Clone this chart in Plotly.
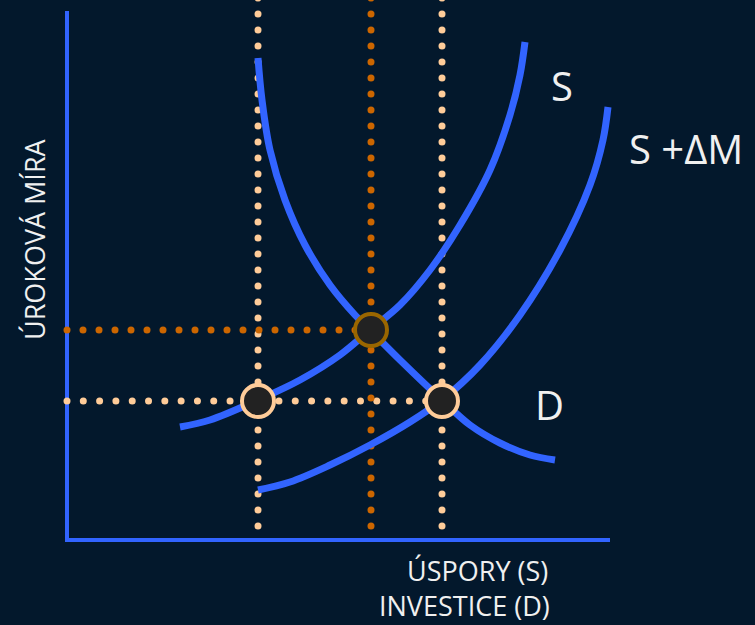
import numpy as np
import plotly.graph_objects as go

# Coordinates in the chart's own units (x: savings/investment, y: interest rate, origin at axes corner)
S_x = [180, 210, 258, 300, 340, 370, 400, 430, 460, 490, 510, 520, 525]
S_y = [427, 420, 400, 380, 355, 330, 305, 270, 225, 170, 115, 75, 42]

SdM_x = [258, 290, 330, 370, 410, 442, 480, 520, 560, 590, 603, 608]
SdM_y = [490, 482, 465, 445, 422, 400, 365, 315, 250, 185, 140, 107]

D_x = [258, 262, 270, 285, 305, 330, 355, 370, 400, 442, 470, 500, 530, 555]
D_y = [58, 100, 150, 200, 245, 285, 315, 330, 360, 400, 425, 443, 455, 460]

# equilibria
eq_x = [258, 371, 442]
eq_y = [401, 330, 401]
eq_border = ["#FFCC99", "#996600", "#FFCC99"]

origin = (67, 540)
x_axis_end = 610
y_axis_top = 11

BG = "#03182C"
BLUE = "#3264FF"
PEACH = "#FFCC99"
ORANGE = "#CC6600"
TXT = "#F0F0F0"

fig = go.Figure()

def dotted(x0, y0, x1, y1, color, step=16):
    n = int(round(max(abs(x1 - x0), abs(y1 - y0)) / step))
    xs = np.linspace(x0, x1, n + 1)
    ys = np.linspace(y0, y1, n + 1)
    fig.add_trace(go.Scatter(x=xs, y=ys, mode="markers",
                             marker=dict(size=7, color=color, line=dict(width=0)),
                             hoverinfo="skip", showlegend=False))

# axes
fig.add_trace(go.Scatter(x=[origin[0], origin[0], x_axis_end], y=[y_axis_top, origin[1], origin[1]],
                         mode="lines", line=dict(color=BLUE, width=4), hoverinfo="skip", showlegend=False))

# dotted guides (peach first, orange on top)
dotted(eq_x[0], -2, eq_x[0], 526, PEACH)
dotted(eq_x[2], -2, eq_x[2], 526, PEACH)
dotted(origin[0], eq_y[0], eq_x[2], eq_y[0], PEACH)
dotted(eq_x[1], -2, eq_x[1], 526, ORANGE)
dotted(origin[0], eq_y[1], eq_x[1], eq_y[1], ORANGE)

# curves
for xs, ys in [(S_x, S_y), (SdM_x, SdM_y), (D_x, D_y)]:
    fig.add_trace(go.Scatter(x=xs, y=ys, mode="lines", line=dict(color=BLUE, width=7, shape="spline", smoothing=1.0),
                             hoverinfo="skip", showlegend=False))

# equilibrium circles
fig.add_trace(go.Scatter(x=eq_x, y=eq_y, mode="markers",
                         marker=dict(size=32, color="#222222", line=dict(color=eq_border, width=4)),
                         hoverinfo="skip", showlegend=False))

font = "'Open Sans', Lato, sans-serif"
fig.add_annotation(x=562, y=85, text="S", showarrow=False, font=dict(size=40, color=TXT, family=font))
fig.add_annotation(x=686, y=148, text="S +ΔM", showarrow=False, font=dict(size=40, color=TXT, family=font))
fig.add_annotation(x=549, y=404, text="D", showarrow=False, font=dict(size=40, color=TXT, family=font))
fig.add_annotation(x=34, y=239, text="ÚROKOVÁ MÍRA", textangle=-90, showarrow=False,
                   font=dict(size=27, color=TXT, family=font))
fig.add_annotation(x=477, y=570, text="ÚSPORY (S)", showarrow=False, font=dict(size=27, color=TXT, family=font))
fig.add_annotation(x=464, y=605, text="INVESTICE (D)", showarrow=False, font=dict(size=27, color=TXT, family=font))

fig.update_layout(
    width=755, height=625,
    margin=dict(l=0, r=0, t=0, b=0),
    paper_bgcolor=BG, plot_bgcolor=BG,
    xaxis=dict(range=[0, 755], visible=False, fixedrange=True),
    yaxis=dict(range=[625, 0], visible=False, fixedrange=True),
    showlegend=False,
)

fig.write_html("out.html", config={"displayModeBar": False},
               post_script="document.body.style.margin='0';document.body.style.background='" + BG + "';")
